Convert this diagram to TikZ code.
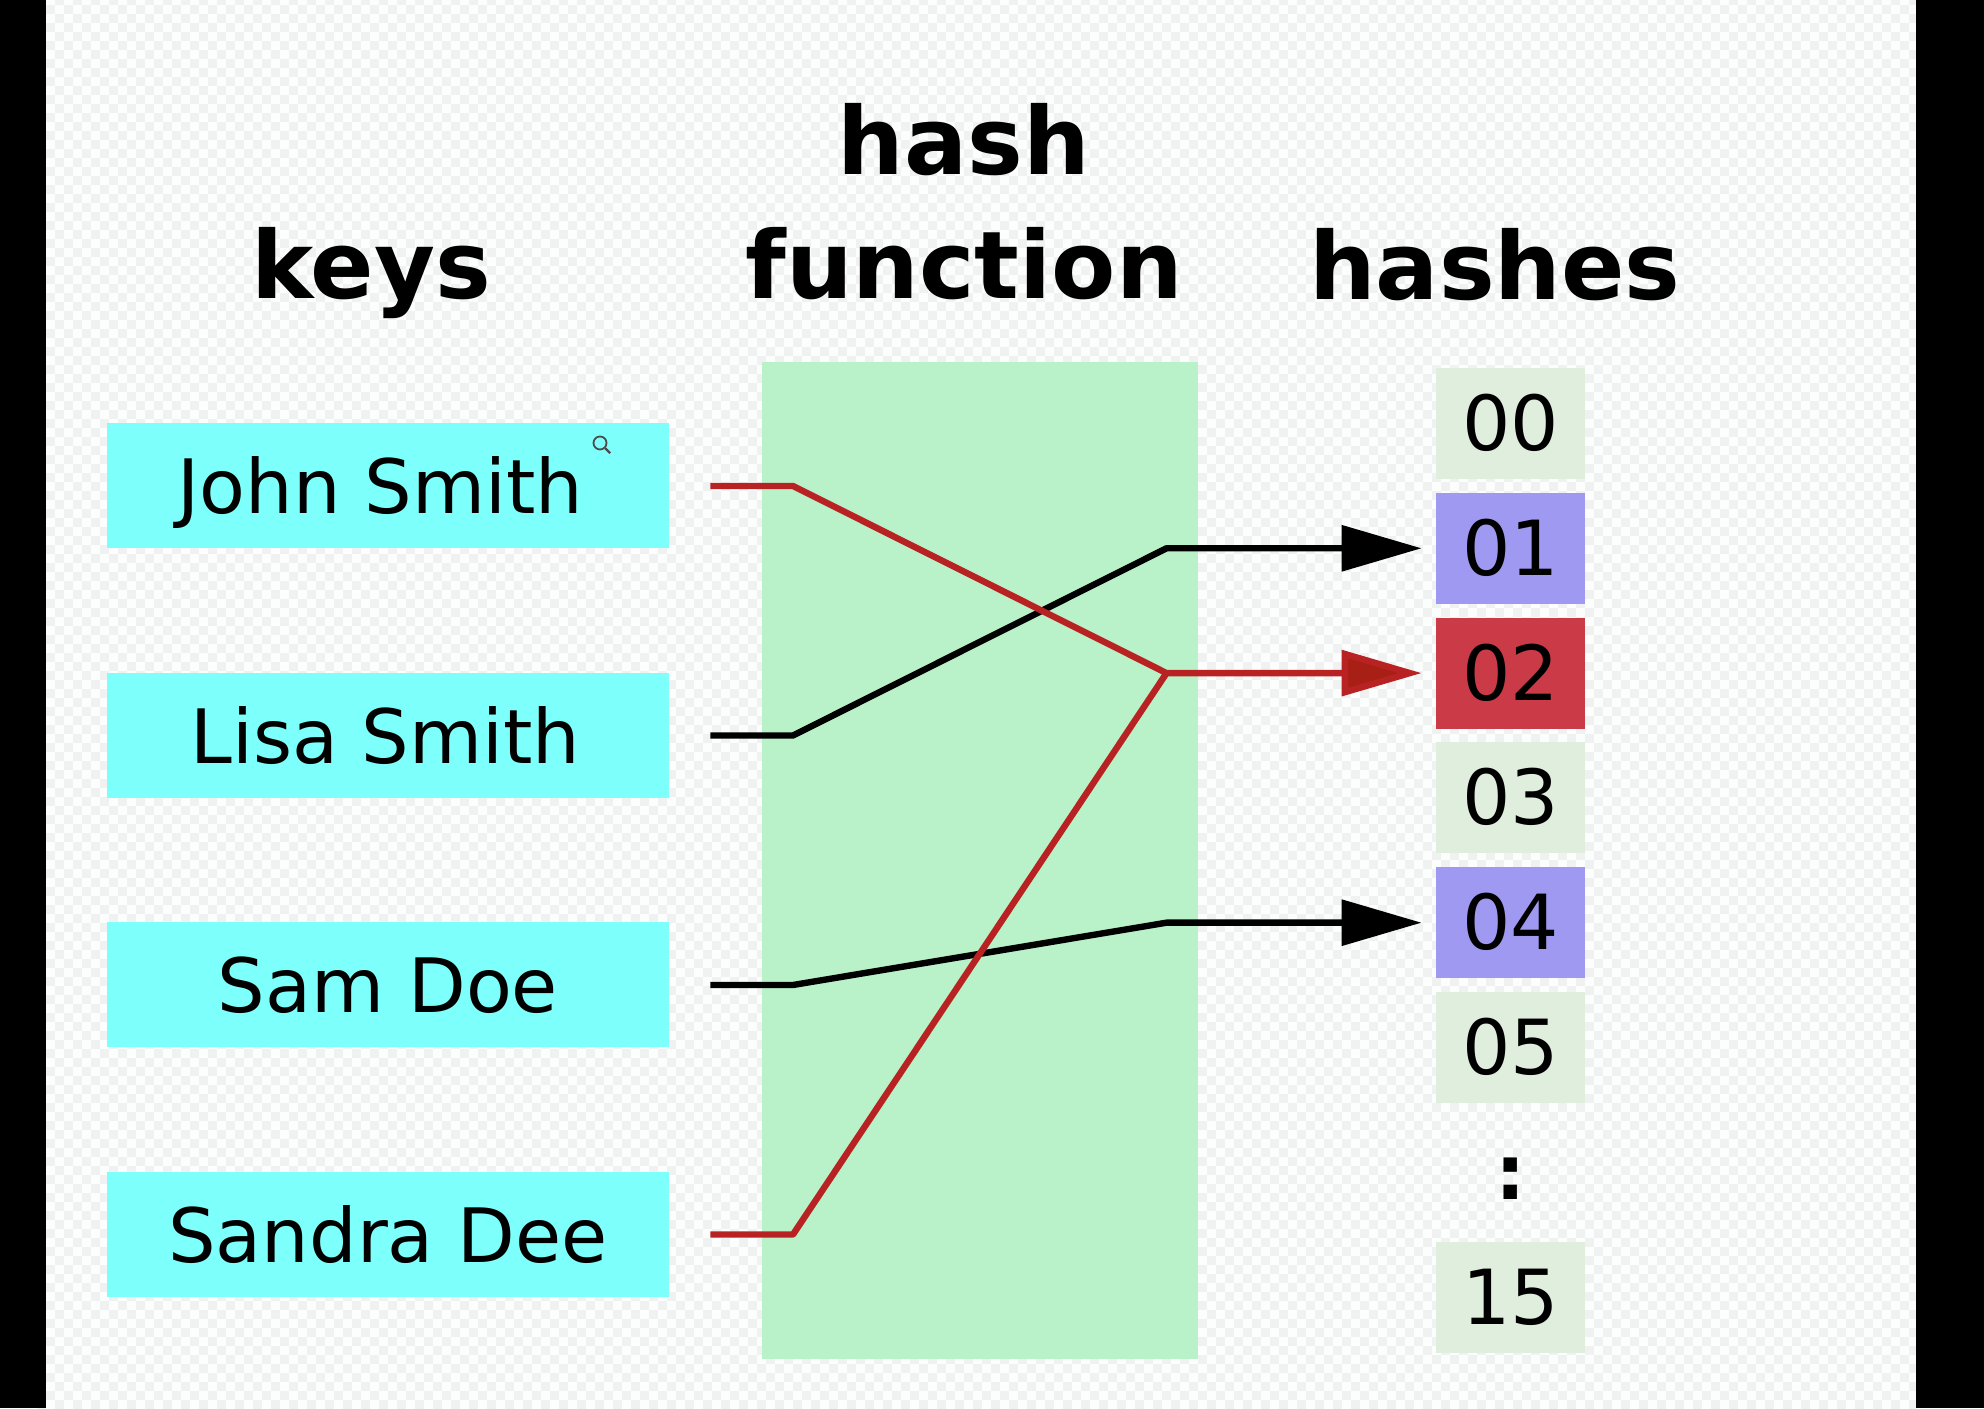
\documentclass[tikz,border=0pt]{standalone}
\usepackage{fontspec}
\setmainfont{DejaVu Sans}
\usetikzlibrary{arrows.meta}
\definecolor{bgpage}{HTML}{FCFDFD}
\definecolor{bgcheck}{HTML}{F0F1F1}
\definecolor{keycyan}{HTML}{7DFFFB}
\definecolor{fngreen}{HTML}{B9F2C8}
\definecolor{cellpale}{HTML}{DFEEDD}
\definecolor{cellblue}{HTML}{9F99F2}
\definecolor{cellred}{HTML}{CB3A47}
\definecolor{redline}{HTML}{B82222}
\definecolor{redtip}{HTML}{A81F15}
\tikzset{
  checkrow/.style={bgcheck, line width=4.5pt, dash pattern=on 4.5pt off 4.5pt},
  keybox/.style={fill=keycyan, minimum width=281pt, minimum height=62.5pt, inner sep=0pt, text height=28pt, text depth=0pt, font=\fontsize{37.5}{37.5}\selectfont},
  cellbox/.style={fill=cellpale, minimum width=74.5pt, minimum height=55.5pt, inner sep=0pt, text height=27pt, text depth=0pt, font=\fontsize{38}{38}\selectfont},
  headtext/.style={font=\bfseries\fontsize{46.8}{62}\selectfont, align=center},
  blackline/.style={line width=3.2pt, black, line join=round, -{Triangle[length=40pt,width=22.5pt]}, shorten >=7pt},
  redarrow/.style={line width=3.2pt, redline, line join=round, -{Triangle[length=40pt,width=22.5pt,fill=redtip]}, shorten >=7pt},
  redplain/.style={line width=3.2pt, redline, line join=round}
}
\begin{document}
\begin{tikzpicture}[x=0.5pt, y=0.5pt, node distance=124.75pt]
  \useasboundingbox (0,0) rectangle (1984,1408);
  % page and side bars
  \fill[bgpage] (0,0) rectangle (1984,1408);
  \foreach \y in {1407.5,1389.5,...,0} \draw[checkrow] (37,\y) -- (1916,\y);
  \foreach \y in {1398.5,1380.5,...,0} \draw[checkrow] (28,\y) -- (1916,\y);
  \fill[black] (0,0) rectangle (45.5,1408);
  \fill[black] (1916,0) rectangle (1984,1408);
  \fill[fngreen] (762,49) rectangle (1198,1046);
  % keys
  \node[keybox](john) at (388,922) {John Smith\kern7.6pt};
  \node[keybox](lisa)[below of=john] {Lisa Smith\kern2.5pt};
  \node[keybox](sam)[below of=lisa] {Sam Doe};
  \node[keybox](sandra)[below of=sam] {Sandra Dee};
  % hashes
  \node[cellbox](h00) at (1510.5,984.5) {00};
  \begin{scope}[node distance=62.4pt]
  \node[cellbox, fill=cellblue](h01)[below of=h00] {01};
  \node[cellbox, fill=cellred](h02)[below of=h01] {02};
  \node[cellbox](h03)[below of=h02] {03};
  \node[cellbox, fill=cellblue](h04)[below of=h03] {04};
  \node[cellbox](h05)[below of=h04] {05};
  \node[cellbox, fill=none](hdots)[below of=h05] {\textbf{:}};
  \node[cellbox](h15)[below of=hdots] {15};
  \end{scope}
  % headers
  \node[headtext](keys) at (371,1135) {keys};
  \node[headtext](func) at (964,1206) {hash\\function};
  \node[headtext](hashes) at (1495,1143.5) {hashes};
  % lines
  \coordinate(b1) at (793,0);
  \coordinate(b2) at (1166.5,0);
  \draw[blackline] ([xshift=20.5pt]lisa.east) -- (b1 |- lisa) -- (b2 |- h01) -- (h01.west);
  \draw[blackline] ([xshift=20.5pt]sam.east) -- (b1 |- sam) -- (b2 |- h04) -- (h04.west);
  \draw[redarrow] ([xshift=20.5pt]john.east) -- (b1 |- john) -- (b2 |- h02) -- (h02.west);
  \draw[redplain] ([xshift=20.5pt]sandra.east) -- (b1 |- sandra) -- (b2 |- h02);
  % cursor
  \node[circle, draw=black!70, line width=0.9pt, minimum size=6.5pt, inner sep=0pt](glass) at (600,965) {};
  \draw[black!70, line width=1.1pt] (glass.south east) -- ++(5,-5);
\end{tikzpicture}
\end{document}
